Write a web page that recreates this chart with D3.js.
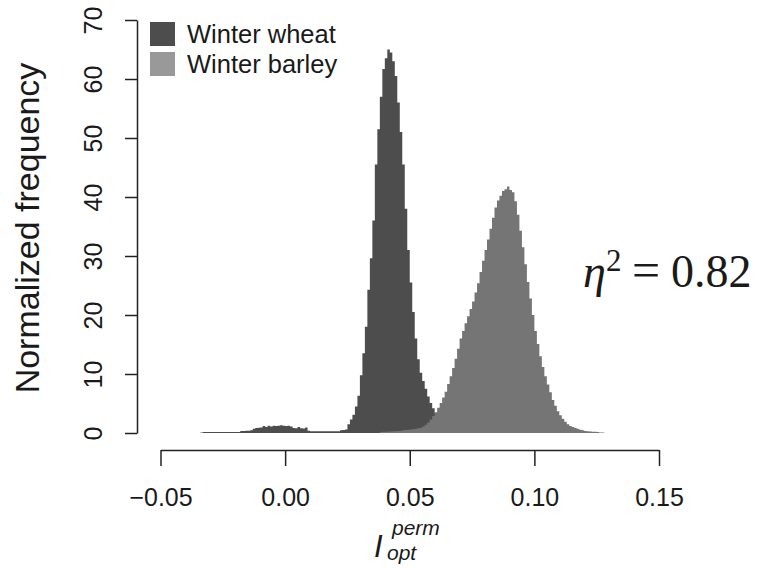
<!doctype html>
<html>
<head>
<meta charset='utf-8'>
<style>
body { margin: 0; background: #fff; }
svg text { font-family: 'Liberation Sans', Arial, sans-serif; fill: #1a1a1a; }
</style>
</head>
<body>
<div id='chart'></div>
<script src='https://cdn.jsdelivr.net/npm/d3@7/dist/d3.min.js'></script>
<script>

// histogram bins, width 0.001, values = normalized frequency
const binWidth = 0.001;
const wheatStart = -0.034;
const wheatValues = [
  0.1,
  0.17, 0.17, 0.17, 0.17, 0.17, 0.17, 0.17, 0.17, 0.17, 0.17, 0.17, 0.17, 0.17, 0.17, 0.17,
  0.35, 0.35, 0.4, 0.4, 0.45,
  0.7, 0.85, 0.9, 0.95, 1.2, 1.0, 1.25, 1.1, 1.25, 1.2, 1.25, 1.3, 1.25, 1.2, 1.25, 1.1,
  0.85, 0.8, 1.0, 0.8, 0.75, 0.95, 0.4,
  0.3, 0.3, 0.3, 0.3, 0.3, 0.3, 0.3, 0.3, 0.3, 0.3, 0.3, 0.3,
  0.45, 0.5, 0.6, 1.5, 2.3, 3.1, 4.5, 6.3, 9.8, 13.5, 18, 24.3, 29.6, 36, 45.5, 51.5,
  57, 61.7, 63.5, 65, 64.5, 63, 60.5, 56, 51, 45.5, 38, 31, 25.5, 20.5, 16, 12.5,
  10.2, 8.8, 7.5, 6.2, 5.1, 4.2, 3.4, 2.7, 2.1, 1.6, 1.2, 0.9, 0.6, 0.4, 0.3, 0.2
];
const barleyStart = 0.038;
const barleyValues = [
  0.15, 0.2, 0.2, 0.25, 0.25, 0.3, 0.3, 0.35, 0.4, 0.45, 0.5, 0.55, 0.6, 0.65, 0.7, 0.8,
  0.9, 1.1, 1.4, 1.8, 2.3, 2.9, 3.5, 4.3, 5.1, 6.0, 7.0, 8.3, 9.6, 11.0, 12.6, 14.3,
  16.0, 17.3, 18.6, 19.8, 21.0, 22.3, 23.8, 25.4, 27.3, 29.2, 31.0, 32.8, 34.6, 36.5,
  38.2, 39.4, 40.2, 41.0, 41.3, 41.8, 41.2, 40.8, 39.3, 37.0, 34.3, 31.5, 28.6, 25.6,
  22.8, 20.0, 17.3, 15.1, 13.0, 11.2, 9.6, 8.2, 6.9, 5.6, 4.6, 3.7, 3.0, 2.4, 1.9, 1.5,
  1.2, 1.0, 0.85, 0.7, 0.55, 0.45, 0.35, 0.3, 0.25, 0.2, 0.2, 0.15, 0.1, 0.1
];

const xTicks = [-0.05, 0, 0.05, 0.10, 0.15];
const yTicks = [0, 10, 20, 30, 40, 50, 60, 70];
const legendLabels = ['Winter wheat', 'Winter barley'];
const fillColors = ['#4d4d4d', '#757575'];
const legendColors = ['#4d4d4d', '#999999'];

const W = 757, H = 568;

const svg = d3.select('#chart')
  .append('svg')
  .attr('width', W)
  .attr('height', H);

const x = d3.scaleLinear().domain([-0.05, 0.15]).range([160.5, 659]);
const y = d3.scaleLinear().domain([0, 70]).range([433, 20]);

function toBins(start, values){
  const pts = values.map((v, i) => [start + i * binWidth, v]);
  pts.push([start + values.length * binWidth, 0]);
  return pts;
}

const area = d3.area()
  .curve(d3.curveStepAfter)
  .x(d => x(d[0]))
  .y0(y(0))
  .y1(d => y(d[1]));

// wheat first, barley drawn over it
svg.append('path')
  .datum(toBins(wheatStart, wheatValues))
  .attr('d', area)
  .attr('fill', fillColors[0]);

svg.append('path')
  .datum(toBins(barleyStart, barleyValues))
  .attr('d', area)
  .attr('fill', fillColors[1]);

// x axis
const xAxis = svg.append('g')
  .attr('transform', 'translate(0,450)')
  .call(d3.axisBottom(x)
    .tickValues(xTicks)
    .tickFormat(d3.format('.2f'))
    .tickSize(16)
    .tickSizeOuter(0)
    .tickPadding(22));
xAxis.selectAll('path, line').attr('stroke', '#222').attr('stroke-width', 1.5);
xAxis.selectAll('text')
  .text(d => d < 0 ? '\u22120.05' : d3.format('.2f')(d))
  .style('font-size', '25px');

// y axis
const yAxis = svg.append('g')
  .attr('transform', 'translate(137,0)')
  .call(d3.axisLeft(y)
    .tickValues(yTicks)
    .tickSize(12)
    .tickSizeOuter(0));
yAxis.selectAll('path, line').attr('stroke', '#222').attr('stroke-width', 1.5);
yAxis.selectAll('text')
  .attr('transform', 'rotate(-90)')
  .attr('x', 0)
  .attr('y', -35)
  .attr('dy', 0)
  .attr('text-anchor', 'middle')
  .style('font-size', '25px');

// y title
svg.append('text')
  .attr('transform', 'translate(39,228) rotate(-90)')
  .attr('text-anchor', 'middle')
  .style('font-size', '34px')
  .text('Normalized frequency');

// x title: I_opt^perm
const xt = svg.append('g').attr('transform', 'translate(374,557)');
xt.append('text')
  .style('font-size', '31px').style('font-style', 'italic')
  .text('I');
xt.append('text')
  .attr('x', 18).attr('y', -22)
  .style('font-size', '21px').style('font-style', 'italic')
  .text('perm');
xt.append('text')
  .attr('x', 13).attr('y', 3)
  .style('font-size', '21px').style('font-style', 'italic')
  .text('opt');

// legend
const legend = svg.append('g');
legendLabels.forEach((lab, i) => {
  legend.append('rect')
    .attr('x', 150).attr('y', 22 + i * 30)
    .attr('width', 25).attr('height', 24)
    .attr('fill', legendColors[i]);
  legend.append('text')
    .attr('x', 187).attr('y', 43 + i * 30)
    .style('font-size', '25.5px')
    .text(lab);
});

// effect size annotation
const eta = svg.append('g')
  .style('font-family', "'Liberation Serif', 'Times New Roman', serif");
eta.append('text')
  .attr('x', 583).attr('y', 287)
  .style('font-family', "'Liberation Serif', serif")
  .style('font-size', '46px').style('font-style', 'italic')
  .text('\u03b7');
eta.append('text')
  .attr('x', 606).attr('y', 271)
  .style('font-family', "'Liberation Serif', serif")
  .style('font-size', '31px')
  .text('2');
eta.append('text')
  .attr('x', 632).attr('y', 287)
  .style('font-family', "'Liberation Serif', serif")
  .style('font-size', '50px')
  .text('=');
eta.append('text')
  .attr('x', 671).attr('y', 287)
  .style('font-family', "'Liberation Serif', serif")
  .style('font-size', '46px')
  .text('0.82');

</script>
</body>
</html>
